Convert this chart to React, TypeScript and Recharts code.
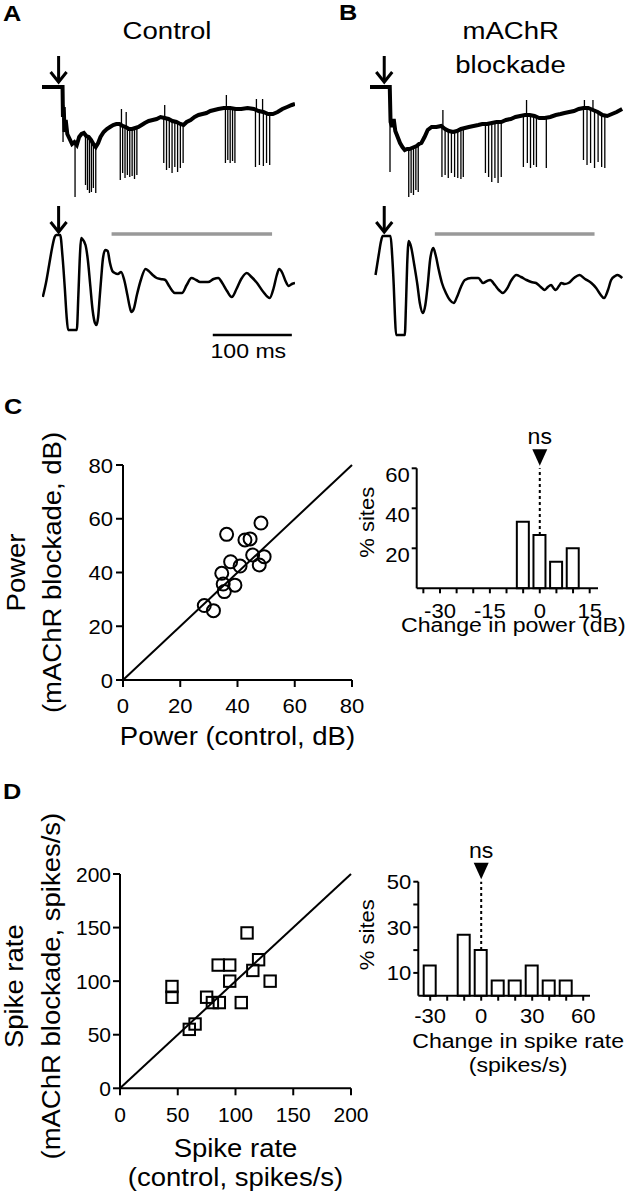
import React from "react";
import {
  LineChart,
  Line,
  XAxis,
  YAxis,
  ReferenceLine,
  ReferenceDot,
  ScatterChart,
  Scatter,
  BarChart,
  Bar,
} from "recharts";

// ---- A / B: example recordings (time in ms, arbitrary voltage units) ----
const ctlStim = 21;
const blkStim = 18;

// slow part of the unit trace [t, v]
const ctlBase = [
  [0, 0], [26, 0], [26.5, -30], [27.5, -20], [28.5, -45], [30, -33], [32, -47], [35, -52], [38, -57],
  [41, -55], [44, -58], [47, -50], [50, -47], [53, -46], [56, -49], [59, -50], [62, -53], [65, -57],
  [68, -60], [71, -56], [74, -50], [78, -45], [82, -42], [86, -40], [90, -38], [94, -37], [98, -37],
  [102, -39], [106, -40], [110, -42], [114, -42], [118, -41], [122, -40], [126, -38], [130, -36],
  [135, -34], [140, -33], [145, -32], [150, -30], [155, -31], [160, -32], [165, -34], [170, -35],
  [175, -37], [179, -38], [183, -35], [188, -33], [193, -30], [198, -28], [203, -27], [208, -26],
  [213, -24], [218, -23], [223, -22], [230, -21], [238, -21], [245, -22], [252, -22], [260, -21],
  [268, -22], [274, -24], [280, -25], [286, -27], [292, -27], [298, -25], [304, -22], [310, -20],
  [316, -18], [320, -17],
];
// spikes [t, base, tip]
const ctlSpikes = [
  [26.6, -5, -55], [27.4, -25, -18], [41.8, -55, -110],
  [55, -48, -98], [57.5, -49, -103], [60, -51, -106], [62.5, -54, -105], [65, -57, -101], [68, -60, -106],
  [99, -37, -93], [100.5, -38, -22], [102, -39, -86], [105, -40, -91], [106.5, -40, -25], [108, -41, -88],
  [111, -42, -90], [114, -42, -89], [117, -41, -92], [120, -40, -88],
  [154, -31, -76], [155.2, -31, -18], [157.5, -31, -83], [161, -32, -81], [164.5, -34, -86], [168, -35, -80],
  [171.5, -36, -85], [175, -37, -81], [178.5, -38, -76],
  [232, -21, -76], [233.2, -21, -8], [235, -21, -73], [238, -21, -76], [241, -21, -74], [244, -22, -76],
  [270, -22, -80], [271.2, -22, -12], [275, -24, -78], [279, -25, -12], [280, -25, -79], [284, -26, -76],
  [288, -27, -78],
];
const ctlLfp = [
  [1, -12], [5, 2], [9, 20], [13, 38], [16, 48], [18, 50], [23, 50], [26, 28], [29, -5], [31, -30],
  [33, -45], [44, -45], [46, -10], [48, 30], [49.5, 47], [51, 46], [55, 40], [58, 25], [61, 0], [64, -25],
  [67, -38], [69, -40], [71, -32], [73, -12], [75, 8], [77, 26], [80, 35], [83, 34], [86, 22], [89, 14],
  [92, 12], [96, 11], [100, 13], [104, 5], [108, -10], [111, -22], [113, -27], [116, -24], [120, -10],
  [125, 5], [131, 16], [135, 14], [140, 10], [145, 7], [150, 6], [156, 5], [160, 0], [164, -5], [168, -8],
  [177, -8], [183, 0], [189, 7], [195, 5], [200, 3], [210, 3], [217, 6], [223, 7], [228, 2], [234, -6],
  [240, -12], [246, -4], [252, 6], [259, 12], [265, 8], [272, 2], [280, -7], [288, -13], [293, -3],
  [297, 10], [300, 16], [304, 12], [308, 4], [312, -1], [316, 1], [320, 2],
];

const blkBase = [
  [0, 0], [25, 0], [26, -35], [28, -40], [30, -32], [32, -44], [35, -50], [38, -56], [41, -60], [44, -63],
  [47, -62], [50, -62], [53, -61], [56, -60], [59, -59], [62, -57], [65, -56], [69, -50], [73, -43],
  [78, -40], [84, -40], [90, -39], [95, -42], [100, -44], [105, -45], [110, -44], [115, -42], [120, -41],
  [125, -40], [131, -39], [137, -38], [142, -37], [148, -37], [154, -36], [160, -35], [166, -35],
  [172, -33], [178, -32], [184, -30], [190, -29], [196, -28], [202, -28], [208, -29], [214, -31],
  [221, -31], [228, -30], [235, -28], [241, -27], [246, -26], [252, -25], [258, -24], [264, -22],
  [270, -21], [276, -21], [282, -23], [288, -25], [294, -28], [300, -29], [306, -27], [312, -25], [319, -22],
];
const blkSpikes = [
  [25.3, 0, -85], [27, -35, -20],
  [49, -62, -110], [52, -61, -106], [55, -60, -108], [58, -60, -103], [61, -57, -105],
  [91, -39, -90], [92.2, -40, -23], [95, -42, -88], [99, -43, -91], [103, -45, -86], [107, -45, -90],
  [111, -44, -91], [115, -42, -92], [118, -41, -90],
  [146, -37, -86], [150, -37, -90], [154, -36, -95], [158, -36, -91], [162, -35, -96], [166, -35, -90],
  [194, -28, -80], [198, -28, -13], [199, -28, -76], [203, -28, -81], [207, -29, -78], [210.5, -30, -80],
  [223, -31, -81],
  [270, -21, -73], [271.2, -21, -13], [274.5, -21, -78], [279, -22, -76], [282, -23, -13], [284, -23, -81],
  [288.5, -25, -75], [293, -28, -80], [297, -29, -81],
];
const blkLfp = [
  [7, 10], [11, 30], [14, 44], [16, 49], [26, 49], [28, 30], [30, 0], [31.5, -30], [33, -50], [44, -50],
  [45.5, -20], [47, 20], [49, 44], [52, 38], [56, 20], [60, 0], [63, -18], [67, -28], [70, -20], [73, 0],
  [76, 25], [80, 37], [83, 30], [87, 15], [91, 2], [96, -8], [101, -15], [106, -18], [110, -12], [115, -2],
  [120, 5], [128, 7], [137, 7], [143, 2], [148, 4], [152, 5], [158, 0], [163, -5], [168, -8], [173, -4],
  [179, 5], [185, 10], [191, 8], [198, 5], [204, 3], [210, 2], [216, -2], [221, -5], [225, -2], [229, 0],
  [232, -3], [235, -5], [239, -1], [242, 2], [246, 1], [251, 2], [258, 7], [265, 10], [272, 6], [280, 2],
  [286, -3], [291, -9], [296, -13], [301, -5], [305, 5], [310, 9], [313, 10], [319, 7],
];

const ctlWindow = [88, 291];
const blkWindow = [82, 284];
const scaleBarMs = [216, 316];

// ---- C: power ----
const powerCtl = [28.4, 31.6, 34.5, 35.0, 35.4, 36.2, 37.6, 39.1, 40.9, 42.6, 44.4, 45.3, 47.6, 48.2, 49.3];
const powerBlk = [27.7, 25.8, 39.7, 35.7, 32.9, 54.2, 44.0, 35.3, 42.4, 52.1, 52.5, 46.5, 42.8, 58.4, 45.9];
const powerBins = [-5, 0, 5, 10];
const powerPct = [33.3, 26.7, 13.3, 20];

// ---- D: spike rate ----
const rateCtl = [45, 45, 60, 65, 75, 80, 86, 85, 95, 95, 105, 110, 115, 120, 130];
const rateBlk = [95, 85, 55, 60, 85, 80, 80, 115, 115, 100, 80, 145, 110, 120, 100];
const rateBins = [-30, -10, 0, 10, 20, 30, 40, 50];
const ratePct = [13.3, 26.7, 20, 6.7, 6.7, 13.3, 6.7, 6.7];

const powerTicks = [0, 20, 40, 60, 80];
const rateTicks = [0, 50, 100, 150, 200];
const powerHistTicks = [-35, -30, -25, -20, -15, -10, -5, 0, 5, 10, 15];
const powerHistLabels = [-30, -15, 0, 15];
const rateHistTicks = [-30, -20, -10, 0, 10, 20, 30, 40, 50, 60];
const rateHistLabels = [-30, 0, 30, 60];
const rateHistY = [10, 20, 30, 40, 50];
const rateHistYLabels = [10, 30, 50];

const FONT = "'Liberation Sans', Arial, Helvetica, sans-serif";
const M0 = { top: 0, right: 0, bottom: 0, left: 0 };
const ax = { stroke: "#000", strokeWidth: 2 };

function T({ x, y, size, anchor = "middle", rotate = 0, sx = 1.1, bold = false, children }: any) {
  return (
    <text
      transform={`translate(${x},${y}) rotate(${rotate}) scale(${sx},1)`}
      textAnchor={anchor}
      fontSize={size}
      fontFamily={FONT}
      fontWeight={bold ? "bold" : "normal"}
      fill="#000"
    >
      {children}
    </text>
  );
}

const toPts = (a: number[][]) => a.map(([t, v]) => ({ t, v }));
const spikeSeries = (s: number[][]) =>
  s.flatMap(([t, b, tip]) => [{ t, v: b }, { t, v: tip }, { t, v: null }]);

const Arrow = (p: any) => (
  <g stroke="#000" strokeWidth={3} fill="none">
    <line x1={p.cx} y1={p.cy - 27} x2={p.cx} y2={p.cy - 2} />
    <polyline points={`${p.cx - 8},${p.cy - 11} ${p.cx},${p.cy - 1} ${p.cx + 8},${p.cy - 11}`} />
  </g>
);

const ScaleText = (p: any) => (
  <T x={p.cx - 4} y={p.cy + 23} size={21}>100 ms</T>
);

const NsMark = (p: any) => (
  <g>
    <polygon points={`${p.cx - 7.5},${p.cy - 19} ${p.cx + 7.5},${p.cy - 19} ${p.cx},${p.cy - 2.5}`} fill="#000" />
    <T x={p.cx} y={p.cy - 24} size={22} sx={1.05}>ns</T>
  </g>
);

const Circle = (p: any) => (
  <circle cx={p.cx} cy={p.cy} r={6.5} fill="none" stroke="#000" strokeWidth={2} />
);
const Square = (p: any) => (
  <rect x={p.cx - 5.7} y={p.cy - 5.7} width={11.4} height={11.4} fill="none" stroke="#000" strokeWidth={2} />
);

const tickX = (dy: number, size: number, show?: number[]) => (p: any) =>
  show && !show.includes(p.payload.value) ? (
    <g />
  ) : (
    <T x={p.x} y={p.y + dy} size={size} sx={1.05}>{p.payload.value}</T>
  );

const tickY = (dy: number, size: number, show?: number[], dx = 0) => (p: any) =>
  show && !show.includes(p.payload.value) ? (
    <g />
  ) : (
    <T x={p.x + dx} y={p.y + dy} size={size} sx={1.05} anchor="end">{p.payload.value}</T>
  );

const xTitle = (lines: string[], offs: number[], size: number, dx = 0) => (p: any) => {
  const vb = p.viewBox || { x: 0, y: 0, width: 0, height: 0 };
  return (
    <g>
      {lines.map((l, i) => (
        <T key={i} x={vb.x + vb.width / 2 + dx} y={vb.y + offs[i]} size={size}>{l}</T>
      ))}
    </g>
  );
};

const yTitle = (lines: string[], offs: number[], size: number, dy = 0) => (p: any) => {
  const vb = p.viewBox || { x: 0, y: 0, width: 0, height: 0 };
  const edge = vb.x + vb.width;
  const cy = vb.y + vb.height / 2 + dy;
  return (
    <g>
      {lines.map((l, i) => (
        <T key={i} x={edge - offs[i]} y={cy} rotate={-90} size={size}>{l}</T>
      ))}
    </g>
  );
};

function TracePanel({ left, base, spikes, lfp, stim, win, scaleBar }: any) {
  return (
    <>
      <div style={{ position: "absolute", left, top: 50 }}>
        <LineChart width={253} height={160} margin={M0}>
          <XAxis type="number" dataKey="t" domain={[0, 320]} hide />
          <YAxis type="number" domain={[-123, 37]} hide />
          <Line data={toPts(base)} dataKey="v" type="linear" stroke="#000" strokeWidth={4}
            dot={false} activeDot={false} isAnimationActive={false} />
          <Line data={spikeSeries(spikes)} dataKey="v" type="linear" stroke="#000" strokeWidth={1.3}
            dot={false} activeDot={false} isAnimationActive={false} />
          <ReferenceDot x={stim} y={4} r={0} ifOverflow="visible" shape={Arrow} />
        </LineChart>
      </div>
      <div style={{ position: "absolute", left, top: 200 }}>
        <LineChart width={253} height={170} margin={M0}>
          <XAxis type="number" dataKey="t" domain={[0, 320]} hide />
          <YAxis type="number" domain={[-85, 85]} hide />
          <ReferenceLine segment={[{ x: win[0], y: 51 }, { x: win[1], y: 51 }]} stroke="#999"
            strokeWidth={3.5} ifOverflow="visible" />
          <Line data={toPts(lfp)} dataKey="v" type="monotone" stroke="#000" strokeWidth={2.5}
            dot={false} activeDot={false} isAnimationActive={false} />
          <ReferenceDot x={stim} y={52} r={0} ifOverflow="visible" shape={Arrow} />
          {scaleBar && (
            <ReferenceLine segment={[{ x: scaleBarMs[0], y: -50 }, { x: scaleBarMs[1], y: -50 }]}
              stroke="#000" strokeWidth={2.5} ifOverflow="visible" />
          )}
          {scaleBar && (
            <ReferenceDot x={(scaleBarMs[0] + scaleBarMs[1]) / 2} y={-50} r={0} ifOverflow="visible"
              shape={ScaleText} />
          )}
        </LineChart>
      </div>
    </>
  );
}

export default function App() {
  const powerPts = powerCtl.map((x, i) => ({ x, y: powerBlk[i] }));
  const ratePts = rateCtl.map((x, i) => ({ x, y: rateBlk[i] }));
  const powerHist = powerBins.map((bin, i) => ({ bin, pct: powerPct[i] }));
  const rateHist = rateBins.map((bin, i) => ({ bin, pct: ratePct[i] }));

  return (
    <div style={{ position: "absolute", left: 0, top: 0, width: 638, height: 1199, background: "#fff" }}>
      <svg width={638} height={1199} style={{ position: "absolute", left: 0, top: 0 }}>
        <T x={3} y={21} size={22} bold anchor="start" sx={1.15}>A</T>
        <T x={339} y={20} size={22} bold anchor="start" sx={1.15}>B</T>
        <T x={4} y={414} size={22} bold anchor="start" sx={1.15}>C</T>
        <T x={3} y={799} size={22} bold anchor="start" sx={1.15}>D</T>
        <T x={167} y={39} size={24} sx={1.15}>Control</T>
        <T x={510.7} y={39} size={24} sx={1.15}>mAChR</T>
        <T x={510.5} y={72.7} size={24} sx={1.15}>blockade</T>
      </svg>

      <TracePanel left={42} base={ctlBase} spikes={ctlSpikes} lfp={ctlLfp} stim={ctlStim} win={ctlWindow} scaleBar />
      <TracePanel left={370} base={blkBase} spikes={blkSpikes} lfp={blkLfp} stim={blkStim} win={blkWindow} />

      {/* C scatter */}
      <div style={{ position: "absolute", left: 0, top: 400 }}>
        <ScatterChart width={370} height={370} margin={{ top: 65, right: 18, bottom: 0, left: 63 }}>
          <XAxis type="number" dataKey="x" domain={[0, 80]} ticks={powerTicks} interval={0} height={90}
            tickSize={7} tickMargin={2} axisLine={ax} tickLine={ax} tick={tickX(24, 21)}
            label={xTitle(["Power (control, dB)"], [65], 25)} />
          <YAxis type="number" dataKey="y" domain={[0, 80]} ticks={powerTicks} interval={0} width={60}
            tickSize={7} tickMargin={2} axisLine={ax} tickLine={ax} tick={tickY(7.5, 21, undefined, -1)}
            label={yTitle(["Power", "(mAChR blockade, dB)"], [98, 62], 25)} />
          <ReferenceLine segment={[{ x: 0, y: 0 }, { x: 80, y: 80 }]} stroke="#000" strokeWidth={2} />
          <Scatter data={powerPts} shape={Circle} isAnimationActive={false} />
        </ScatterChart>
      </div>

      {/* C histogram */}
      <div style={{ position: "absolute", left: 340, top: 420 }}>
        <BarChart width={298} height={230} data={powerHist} margin={{ top: 48.3, right: 40, bottom: 0, left: 26.7 }}>
          <XAxis type="number" dataKey="bin" domain={[-37, 17.5]} ticks={powerHistTicks} interval={0}
            height={61.7} tickSize={5} tickMargin={2} axisLine={ax} tickLine={ax}
            tick={tickX(23, 21, powerHistLabels)}
            label={xTitle(["Change in power (dB)"], [44], 21, 6)} />
          <YAxis type="number" domain={[0, 60]} ticks={[20, 40, 60]} interval={0} width={50}
            tickSize={5} tickMargin={2} axisLine={ax} tickLine={ax} tick={tickY(14, 21)}
            label={yTitle(["% sites"], [43], 20, -6)} />
          <ReferenceLine segment={[{ x: 0, y: powerPct[1] }, { x: 0, y: 60 }]} stroke="#000"
            strokeWidth={2} strokeDasharray="3 3" ifOverflow="visible" />
          <Bar dataKey="pct" barSize={12} fill="#fff" stroke="#000" strokeWidth={2} isAnimationActive={false} />
          <ReferenceDot x={0} y={60} r={0} ifOverflow="visible" shape={NsMark} />
        </BarChart>
      </div>

      {/* D scatter */}
      <div style={{ position: "absolute", left: 0, top: 800 }}>
        <ScatterChart width={370} height={399} margin={{ top: 74, right: 19, bottom: 0, left: 60 }}>
          <XAxis type="number" dataKey="x" domain={[0, 200]} ticks={rateTicks} interval={0} height={110.7}
            tickSize={7} tickMargin={2} axisLine={ax} tickLine={ax} tick={tickX(25, 20)}
            label={xTitle(["Spike rate", "(control, spikes/s)"], [69, 98], 25)} />
          <YAxis type="number" dataKey="y" domain={[0, 200]} ticks={rateTicks} interval={0} width={60}
            tickSize={7} tickMargin={2} axisLine={ax} tickLine={ax} tick={tickY(7.5, 20)}
            label={yTitle(["Spike rate", "(mAChR blockade, spikes/s)"], [97, 60], 25, 5)} />
          <ReferenceLine segment={[{ x: 0, y: 0 }, { x: 200, y: 200 }]} stroke="#000" strokeWidth={2} />
          <Scatter data={ratePts} shape={Square} isAnimationActive={false} />
        </ScatterChart>
      </div>

      {/* D histogram */}
      <div style={{ position: "absolute", left: 340, top: 830 }}>
        <BarChart width={298} height={260} data={rateHist} margin={{ top: 51.7, right: 48, bottom: 0, left: 28.3 }}>
          <XAxis type="number" dataKey="bin" domain={[-37, 64]} ticks={rateHistTicks} interval={0}
            height={94.3} tickSize={5} tickMargin={2} axisLine={ax} tickLine={ax}
            tick={tickX(20, 21, rateHistLabels)}
            label={xTitle(["Change in spike rate", "(spikes/s)"], [52, 76], 21, 14)} />
          <YAxis type="number" domain={[0, 50]} ticks={rateHistY} interval={0} width={50}
            tickSize={5} tickMargin={2} axisLine={ax} tickLine={ax} tick={tickY(7.5, 21, rateHistYLabels)}
            label={yTitle(["% sites"], [44], 20, -4)} />
          <ReferenceLine segment={[{ x: 0, y: ratePct[2] }, { x: 0, y: 50 }]} stroke="#000"
            strokeWidth={2} strokeDasharray="3 3" ifOverflow="visible" />
          <Bar dataKey="pct" barSize={12} fill="#fff" stroke="#000" strokeWidth={2} isAnimationActive={false} />
          <ReferenceDot x={0} y={50} r={0} ifOverflow="visible" shape={NsMark} />
        </BarChart>
      </div>
    </div>
  );
}
